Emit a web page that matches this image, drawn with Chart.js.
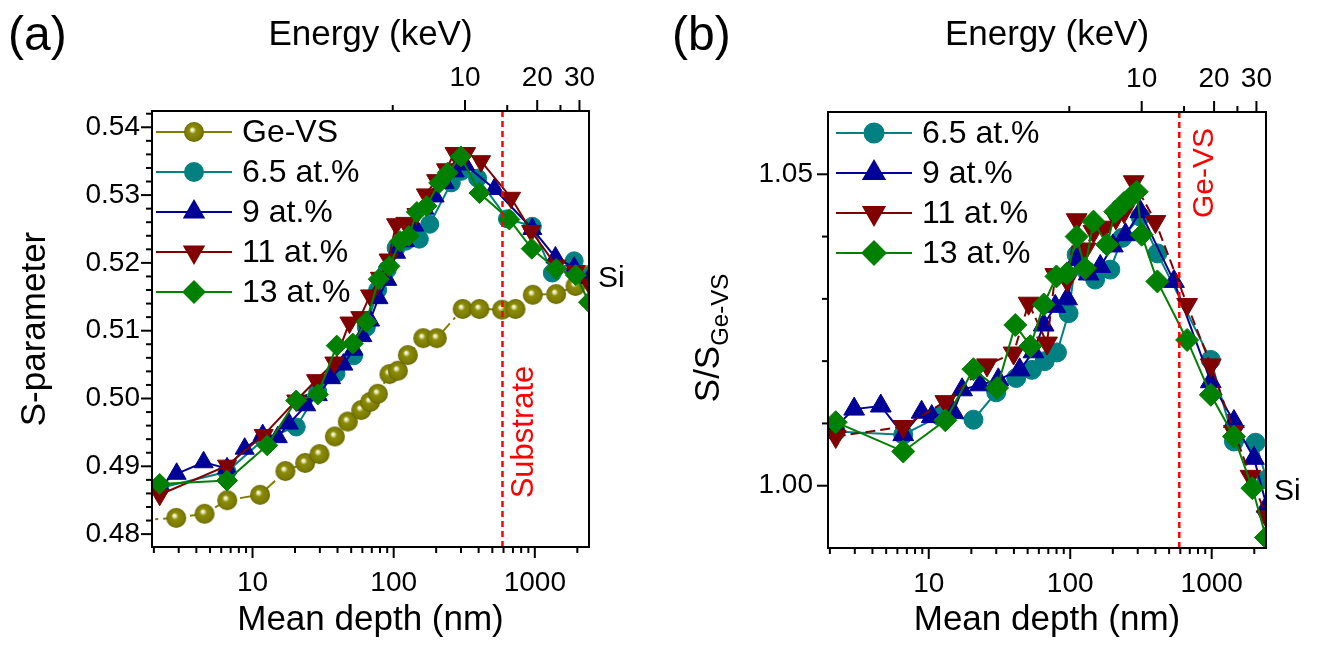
<!DOCTYPE html>
<html>
<head>
<meta charset="utf-8">
<script src="https://cdn.jsdelivr.net/npm/chart.js@4.4.1/dist/chart.umd.min.js"></script>
<style>
  html, body { margin: 0; padding: 0; background: #fff; }
  #wrap { position: relative; width: 1321px; height: 651px; overflow: hidden; }
  #wrap canvas { position: absolute; top: 0; }
  #panelA { left: 0; }
  #panelB { left: 660px; }
</style>
</head>
<body>
<div id="wrap">
  <canvas id="panelA" width="660" height="651"></canvas>
  <canvas id="panelB" width="661" height="651"></canvas>
</div>
<script>
const FONT = '"Liberation Sans", Arial, sans-serif';

// ---- panel (a): S-parameter vs mean depth (nm) ----
const depthGeVS = [1.5, 2.88, 4.57, 6.62, 11.3, 17.1, 23.6, 29.8, 38.3, 47.3, 58.9, 68.1, 77.2, 93.3, 107, 126, 162, 202, 308, 405, 586, 729, 967, 1415, 1940, 2400];
const sGeVS     = [0.4820, 0.4824, 0.4830, 0.4850, 0.4858, 0.4893, 0.4905, 0.4918, 0.4944, 0.4966, 0.4983, 0.4995, 0.5007, 0.5036, 0.5041, 0.5064, 0.5089, 0.5089, 0.5132, 0.5132, 0.5131, 0.5132, 0.5153, 0.5154, 0.5166, 0.5182];

const depth65A = [2.2, 6.6, 12, 20.4, 29, 39, 52, 64, 77, 90, 104, 122, 152, 180, 256, 300, 393, 640, 960, 1330, 1900, 2450];
const s65A     = [0.4868, 0.4892, 0.4940, 0.4958, 0.5010, 0.5037, 0.5063, 0.5105, 0.5160, 0.5190, 0.5222, 0.5232, 0.5235, 0.5257, 0.5318, 0.5335, 0.5325, 0.5265, 0.5254, 0.5185, 0.5203, 0.5180];

const depth9A = [2.2, 2.9, 4.5, 6.6, 8.8, 11.8, 15.1, 18.1, 24, 29, 36, 44, 52, 60, 68, 78, 90, 104, 120, 140, 165, 195, 230, 270, 320, 518, 960, 1400, 1900, 2450];
const s9A     = [0.4872, 0.4889, 0.4906, 0.4897, 0.4926, 0.4946, 0.4943, 0.4963, 0.4990, 0.5005, 0.5030, 0.5050, 0.5072, 0.5092, 0.5115, 0.5148, 0.5175, 0.5215, 0.5232, 0.5255, 0.5280, 0.5298, 0.5318, 0.5335, 0.5345, 0.5309, 0.5250, 0.5208, 0.5193, 0.5178];

const depth11A = [2.2, 6.6, 12, 20.4, 28.2, 38, 48.6, 58, 68, 80, 92, 104, 121, 145, 169, 200, 235, 270, 326, 416, 679, 942, 1416, 1950, 2450];
const s11A     = [0.4858, 0.4901, 0.4946, 0.4997, 0.5027, 0.5053, 0.5112, 0.5120, 0.5152, 0.5178, 0.5205, 0.5257, 0.5259, 0.5272, 0.5301, 0.5322, 0.5338, 0.5362, 0.5362, 0.5350, 0.5296, 0.5247, 0.5196, 0.5188, 0.5168];

const depth13A = [2.2, 6.6, 12.7, 20.4, 29, 39.5, 51.3, 63.9, 78.4, 93.3, 111, 128, 146, 171, 210, 241, 300, 405, 660, 950, 1416, 1950, 2420];
const s13A     = [0.4874, 0.4879, 0.4931, 0.4997, 0.5006, 0.5078, 0.5081, 0.5113, 0.5176, 0.5195, 0.5232, 0.5240, 0.5275, 0.5284, 0.5318, 0.5333, 0.5357, 0.5303, 0.5264, 0.5221, 0.5191, 0.5182, 0.5142];

// ---- panel (b): S / S(Ge-VS) vs mean depth (nm) ----
const depth65B = [2.2, 6.6, 12, 20.7, 30, 41.5, 53.6, 66, 80.6, 97.3, 111, 130, 150, 192, 233, 313, 413, 985, 1436, 2040, 2450];
const r65B     = [1.0087, 1.0082, 1.0112, 1.0106, 1.0150, 1.0173, 1.0186, 1.0200, 1.0214, 1.0277, 1.0371, 1.0345, 1.0331, 1.0347, 1.0398, 1.0432, 1.0373, 1.0202, 1.0071, 1.0069, 1.0010];

const depth9B = [2.2, 2.97, 4.58, 6.6, 8.9, 10.5, 14.9, 17.2, 23.1, 31, 43.9, 55, 64.9, 78.4, 95, 111, 135, 163, 200, 246, 313, 541, 985, 1436, 1990, 2450];
const r9B     = [1.0095, 1.0123, 1.0128, 1.0082, 1.0118, 1.0111, 1.0118, 1.0154, 1.0162, 1.0170, 1.0186, 1.0215, 1.0258, 1.0288, 1.0300, 1.0363, 1.0340, 1.0352, 1.0385, 1.0403, 1.0440, 1.0328, 1.0167, 1.0103, 1.0044, 0.9967];

const depth11B = [2.2, 6.6, 13.1, 25.8, 39.8, 50.8, 68.5, 78.4, 95, 111, 128, 146, 175, 210, 240, 281, 400, 670, 985, 1436, 1880, 2450];
const r11B     = [1.0079, 1.0095, 1.0135, 1.0194, 1.0213, 1.0293, 1.0229, 1.0339, 1.0330, 1.0427, 1.0380, 1.0408, 1.0415, 1.0430, 1.0440, 1.0488, 1.0424, 1.0291, 1.0194, 1.0087, 1.0015, 0.9950];

const depth13B = [2.2, 6.6, 13.1, 20.7, 30.4, 40.9, 52.3, 65, 79.9, 95, 111, 127, 146, 182, 208, 240, 270, 295, 320, 413, 670, 985, 1436, 1940, 2420];
const r13B     = [1.0102, 1.0055, 1.0105, 1.0187, 1.0157, 1.0258, 1.0224, 1.0291, 1.0336, 1.0341, 1.0400, 1.0349, 1.0424, 1.0387, 1.0440, 1.0454, 1.0464, 1.0472, 1.0403, 1.0328, 1.0234, 1.0146, 1.0079, 0.9996, 0.9917];

// ---- axes ----
const depthRange = [1.94, 2420];
const depthLabels = [10, 100, 1000];
const energyLabels = [10, 20, 30];
const energyMinorTicks = [5, 15, 25];
const yLabelsA = [0.48, 0.49, 0.50, 0.51, 0.52, 0.53, 0.54];
const yLabelsB = [1.00, 1.05];
const boundaryDepth = 590;

// mean implantation depth ~ E^1.7, 10 keV -> 320 nm
const DEPTH_AT_10KEV = 320, DEPTH_EXP = 1.7;
const toEnergy = d => 10 * Math.pow(d / DEPTH_AT_10KEV, 1 / DEPTH_EXP);
const energyRange = depthRange.map(toEnergy);

const OLIVE = '#808000', TEAL = '#008080', NAVY = '#000099', MAROON = '#800000', GREEN = '#008000', RED = '#ff0000';

// shaded ball marker for the Ge-VS reference
function makeSphere(r) {
  const c = document.createElement('canvas');
  c.width = c.height = 2 * r + 2;
  const g = c.getContext('2d');
  const cx = r + 1, cy = r + 1;
  const grad = g.createRadialGradient(cx - r * 0.2, cy - r * 0.25, 0, cx, cy, r);
  grad.addColorStop(0, '#ffffff');
  grad.addColorStop(0.15, '#e6e6b0');
  grad.addColorStop(0.35, '#8c8c0a');
  grad.addColorStop(0.85, '#7a7a00');
  grad.addColorStop(1, '#5e5e00');
  g.fillStyle = grad;
  g.beginPath(); g.arc(cx, cy, r, 0, Math.PI * 2); g.fill();
  return c;
}

function series(label, depth, vals, style) {
  return Object.assign({
    label,
    data: depth.map((d, i) => ({ x: d, y: vals[i] })),
    xAxisID: 'x', yAxisID: 'y',
    borderWidth: 2, pointBorderWidth: 1, tension: 0, fill: false
  }, style);
}

const depthTickMarks = [];
[1, 10, 100, 1000].forEach(dec => {
  for (let k = 1; k <= 9; k++) depthTickMarks.push([k * dec, k === 1]);
});

function linearMarks(lo, hi, step, labels) {
  const out = [];
  for (let v = lo; v <= hi + 1e-9; v += step) {
    const val = Math.round(v * 1e4) / 1e4;
    out.push([val, labels.some(l => Math.abs(l - val) < 1e-6)]);
  }
  return out;
}

function makeDecor(p) {
  return {
    id: 'panelDecor',
    afterDatasetsDraw(chart) {
      const { ctx, chartArea: a, scales } = chart;
      const px = scales.x.getPixelForValue(boundaryDepth);
      ctx.save();
      ctx.strokeStyle = RED; ctx.lineWidth = 2.5; ctx.setLineDash([6, 4]);
      ctx.beginPath(); ctx.moveTo(px, a.top); ctx.lineTo(px, a.bottom); ctx.stroke();
      ctx.setLineDash([]);
      ctx.fillStyle = RED; ctx.font = p.boundaryFont + 'px ' + FONT;
      ctx.textAlign = 'center'; ctx.textBaseline = 'middle';
      ctx.translate(px + p.boundaryDx, p.boundaryY); ctx.rotate(-Math.PI / 2);
      ctx.fillText(p.boundaryLabel, 0, 0);
      ctx.restore();
    },
    afterDraw(chart) {
      const { ctx, chartArea: a, scales } = chart;
      ctx.save();
      ctx.strokeStyle = '#000'; ctx.lineWidth = 2;
      ctx.strokeRect(a.left, a.top, a.right - a.left, a.bottom - a.top);
      const mark = (x1, y1, x2, y2) => { ctx.beginPath(); ctx.moveTo(x1, y1); ctx.lineTo(x2, y2); ctx.stroke(); };
      depthTickMarks.forEach(([v, major]) => {
        const x = scales.x.getPixelForValue(v);
        if (x >= a.left && x <= a.right) mark(x, a.bottom, x, a.bottom + (major ? 11 : 6));
      });
      energyLabels.concat(energyMinorTicks).forEach(v => {
        const x = scales.x2.getPixelForValue(v);
        if (x >= a.left && x <= a.right) mark(x, a.top, x, a.top - (energyLabels.includes(v) ? 11 : 6));
      });
      p.yMarks.forEach(([v, major]) => {
        const y = scales.y.getPixelForValue(v);
        if (y >= a.top + 1 && y <= a.bottom - 1) mark(a.left, y, a.left - (major ? 11 : 6), y);
      });

      // legend: line, symbol, text
      ctx.textAlign = 'left'; ctx.textBaseline = 'middle';
      ctx.font = '32px ' + FONT;
      p.legend.forEach((row, k) => {
        const ds = chart.data.datasets[row];
        const y = p.legendY[k];
        ctx.strokeStyle = ds.borderColor; ctx.lineWidth = 2; ctx.setLineDash([]);
        mark(p.legendX[0], y, p.legendX[1], y);
        ctx.fillStyle = ds.backgroundColor;
        Chart.helpers.drawPoint(ctx, {
          pointStyle: ds.pointStyle, radius: ds.pointRadius,
          rotation: ds.pointRotation || 0, borderWidth: 1
        }, (p.legendX[0] + p.legendX[1]) / 2, y);
        ctx.fillStyle = '#000';
        ctx.fillText(ds.label, p.legendX[1] + 10, y + 1);
      });

      // panel letter and substrate label
      ctx.fillStyle = '#000';
      ctx.textBaseline = 'alphabetic';
      ctx.font = '48px ' + FONT;
      ctx.fillText(p.letter, p.letterX, 50);
      ctx.font = '30px ' + FONT; ctx.textBaseline = 'middle';
      ctx.fillText('Si', p.siX, p.siY);

      if (p.ratioTitle) {
        ctx.translate(59, 338); ctx.rotate(-Math.PI / 2);
        ctx.textBaseline = 'alphabetic';
        ctx.font = '35px ' + FONT;
        const w1 = ctx.measureText('S/S').width;
        ctx.font = '24px ' + FONT;
        const w2 = ctx.measureText('Ge-VS').width;
        const x0 = -(w1 + w2) / 2;
        ctx.font = '35px ' + FONT;
        ctx.fillText('S/S', x0, 0);
        ctx.font = '24px ' + FONT;
        ctx.fillText('Ge-VS', x0 + w1, 9);
      }
      ctx.restore();
    }
  };
}

function panelOptions(p) {
  const tickFont = { family: FONT, size: 28 };
  const titleFont = { family: FONT, size: 35 };
  return {
    responsive: false, animation: false, events: [],
    layout: { padding: { left: 0, right: p.padRight, top: 0, bottom: 0 } },
    plugins: { legend: { display: false }, tooltip: { enabled: false } },
    scales: {
      x: {
        type: 'logarithmic', axis: 'x', position: 'bottom',
        min: depthRange[0], max: depthRange[1],
        grid: { display: false, drawTicks: false }, border: { display: false },
        afterBuildTicks: s => { s.ticks = depthLabels.map(v => ({ value: v })); },
        afterFit: s => { s.height = p.bottomH; },
        ticks: { padding: 19, color: '#000', font: tickFont, autoSkip: false, maxRotation: 0, callback: v => String(v) },
        title: { display: true, text: 'Mean depth (nm)', color: '#000', font: titleFont, padding: { top: 0, bottom: 10 } }
      },
      x2: {
        type: 'logarithmic', axis: 'x', position: 'top',
        min: energyRange[0], max: energyRange[1],
        grid: { display: false, drawTicks: false }, border: { display: false },
        afterBuildTicks: s => { s.ticks = energyLabels.map(v => ({ value: v })); },
        afterFit: s => { s.height = p.topH; },
        ticks: { padding: 16, color: '#000', font: tickFont, autoSkip: false, maxRotation: 0, callback: v => String(v) },
        title: { display: true, text: 'Energy (keV)', color: '#000', font: titleFont, padding: { top: 14, bottom: 0 } }
      },
      y: {
        type: 'linear', position: 'left',
        min: p.yRange[0], max: p.yRange[1],
        grid: { display: false, drawTicks: false }, border: { display: false },
        afterBuildTicks: s => { s.ticks = p.yLabels.map(v => ({ value: v })); },
        afterFit: s => { s.width = p.leftW; },
        ticks: { padding: p.yPad, color: '#000', font: tickFont, autoSkip: false, callback: v => v.toFixed(2) },
        title: { display: !!p.yTitle, text: p.yTitle || '', color: '#000', font: titleFont, padding: { top: 14, bottom: 0 } }
      }
    }
  };
}

const sphere = makeSphere(10);

// panel (a)
new Chart(document.getElementById('panelA'), {
  type: 'line',
  data: {
    datasets: [
      series('Ge-VS', depthGeVS, sGeVS, { borderColor: OLIVE, backgroundColor: OLIVE, pointStyle: sphere, pointRadius: 10, borderDash: [14, 5, 3, 5], order: 4 }),
      series('6.5 at.%', depth65A, s65A, { borderColor: TEAL, backgroundColor: TEAL, pointStyle: 'circle', pointRadius: 9, order: 3 }),
      series('9 at.%', depth9A, s9A, { borderColor: NAVY, backgroundColor: NAVY, pointStyle: 'triangle', pointRadius: 11, order: 2 }),
      series('11 at.%', depth11A, s11A, { borderColor: MAROON, backgroundColor: MAROON, pointStyle: 'triangle', pointRotation: 180, pointRadius: 11, order: 1 }),
      series('13 at.%', depth13A, s13A, { borderColor: GREEN, backgroundColor: GREEN, pointStyle: 'rectRot', pointRadius: 10.5, order: 0 })
    ]
  },
  options: panelOptions({
    padRight: 71, bottomH: 104, topH: 111, leftW: 152, yPad: 12,
    yRange: [0.4781, 0.5424], yLabels: yLabelsA, yTitle: 'S-parameter'
  }),
  plugins: [makeDecor({
    yMarks: linearMarks(0.478, 0.542, 0.002, yLabelsA),
    legend: [0, 1, 2, 3, 4], legendY: [132, 172, 212, 252, 292], legendX: [156, 232],
    letter: '(a)', letterX: 8, siX: 598, siY: 279,
    boundaryLabel: 'Substrate', boundaryFont: 31, boundaryDx: 22, boundaryY: 432
  })]
});

// panel (b)
new Chart(document.getElementById('panelB'), {
  type: 'line',
  data: {
    datasets: [
      series('6.5 at.%', depth65B, r65B, { borderColor: TEAL, backgroundColor: TEAL, pointStyle: 'circle', pointRadius: 9.5, order: 3 }),
      series('9 at.%', depth9B, r9B, { borderColor: NAVY, backgroundColor: NAVY, pointStyle: 'triangle', pointRadius: 12, order: 2 }),
      series('11 at.%', depth11B, r11B, { borderColor: MAROON, backgroundColor: MAROON, pointStyle: 'triangle', pointRotation: 180, pointRadius: 12, borderDash: [10, 5], order: 1 }),
      series('13 at.%', depth13B, r13B, { borderColor: GREEN, backgroundColor: GREEN, pointStyle: 'rectRot', pointRadius: 11.5, order: 0 })
    ]
  },
  options: panelOptions({
    padRight: 55, bottomH: 103, topH: 112, leftW: 168, yPad: 15,
    yRange: [0.990, 1.060], yLabels: yLabelsB, yTitle: null
  }),
  plugins: [makeDecor({
    yMarks: linearMarks(0.99, 1.06, 0.01, yLabelsB),
    legend: [0, 1, 2, 3], legendY: [133, 173, 213, 253], legendX: [176, 252],
    letter: '(b)', letterX: 12, siX: 614, siY: 492, ratioTitle: true,
    boundaryLabel: 'Ge-VS', boundaryFont: 30, boundaryDx: 25, boundaryY: 173
  })]
});
</script>
</body>
</html>
